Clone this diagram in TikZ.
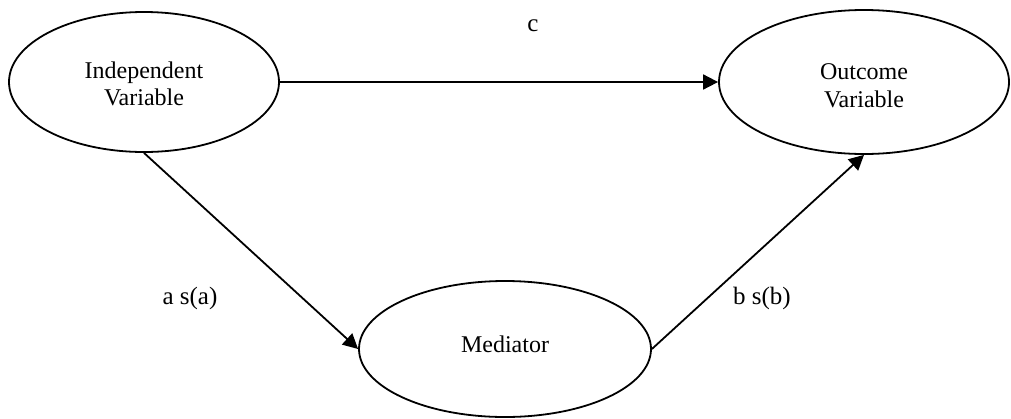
\documentclass[tikz,border=0pt]{standalone}
\usepackage{fontspec}
\setmainfont{Liberation Serif}
\usetikzlibrary{arrows.meta, shapes.geometric, positioning}

\tikzset{
  varnode/.style={draw, ellipse, line width=0.9pt, align=center, font=\fontsize{12}{13.5}\selectfont},
  patharrow/.style={line width=0.9pt, -{Triangle[length=7.5pt,width=7.5pt]}},
  pathlabel/.style={font=\fontsize{12.5}{14}\selectfont}
}

\begin{document}
\begin{tikzpicture}[x=0.5pt, y=-0.5pt]
  \useasboundingbox (0,0) rectangle (1011,418);

  % the three variables
  \node[varnode, minimum width=135pt, minimum height=70pt] (iv) at (144,82)
    {\raisebox{-2.5pt}[\height][\depth]{\begin{tabular}{@{}c@{}}Independent\\Variable\end{tabular}}};
  \node[varnode, minimum width=145pt, minimum height=72pt] (ov) at (864,82)
    {\raisebox{-3pt}[\height][\depth]{\begin{tabular}{@{}c@{}}Outcome\\[0.5pt]Variable\end{tabular}}};
  \node[varnode, minimum width=146pt, minimum height=68pt] (med) at (505,349)
    {\raisebox{2.5pt}[\height][\depth]{Mediator}};

  % paths
  \draw[patharrow] (iv.east) -- (ov.west);
  \draw[patharrow] (iv.south) -- (med.west);
  \draw[patharrow] (med.east) -- (ov.south);

  % path labels
  \node[pathlabel] (lblc) at (533,26) {c};
  \node[pathlabel] (lbla) at (190,298) {a s(a)};
  \node[pathlabel] (lblb) at (762,298) {b s(b)};
\end{tikzpicture}
\end{document}
